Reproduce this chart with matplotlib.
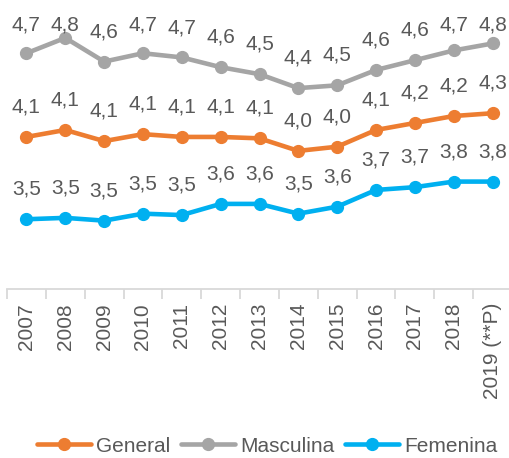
import matplotlib.pyplot as plt

# datos
years = ['2007', '2008', '2009', '2010', '2011', '2012', '2013',
         '2014', '2015', '2016', '2017', '2018', '2019 (**P)']
general = [4.09, 4.14, 4.06, 4.11, 4.09, 4.09, 4.08, 3.99, 4.02, 4.14, 4.19, 4.24, 4.26]
masculina = [4.69, 4.80, 4.63, 4.69, 4.66, 4.59, 4.54, 4.44, 4.46, 4.57, 4.64, 4.71, 4.76]
femenina = [3.50, 3.51, 3.49, 3.54, 3.53, 3.61, 3.61, 3.54, 3.59, 3.71, 3.73, 3.77, 3.77]

series = [('General', general, '#ED7D31'),
          ('Masculina', masculina, '#A5A5A5'),
          ('Femenina', femenina, '#00B0F0')]

plt.rcParams['font.family'] = ['Liberation Sans', 'DejaVu Sans']
txt = '#595959'

fig = plt.figure(figsize=(5.1, 4.58), dpi=100)
ax = fig.add_axes([7 / 510, 169 / 458, 505 / 510, 279 / 458])

x = list(range(len(years)))
for name, vals, col in series:
    ax.plot(x, vals, color=col, lw=3.3, marker='o', ms=8.5, label=name,
            solid_capstyle='round')
    for i, v in enumerate(vals):
        ly = min(v + 0.214, 4.89)  # etiqueta encima, sin salir del area
        ax.text(i, ly, f'{v:.1f}'.replace('.', ','), ha='center', va='center',
                fontsize=15, color=txt)

ax.set_xlim(-0.5, len(years) - 0.5)
ax.set_ylim(3.0, 5.0)
ax.set_yticks([])
for s in ['top', 'left', 'right']:
    ax.spines[s].set_visible(False)
ax.spines['bottom'].set_color('#D9D9D9')
ax.spines['bottom'].set_linewidth(1.3)

ax.set_xticks(x)
ax.set_xticklabels(years, rotation=90, fontsize=15, color=txt)
ax.tick_params(axis='x', which='major', length=0, pad=10)
ax.set_xticks([i - 0.5 for i in range(len(years) + 1)], minor=True)
ax.tick_params(axis='x', which='minor', length=7, width=1.3, color='#D9D9D9')

fig.legend(loc='center', bbox_to_anchor=(0.524, 12 / 458), ncol=3, frameon=False,
           fontsize=15, handlelength=2.6, handletextpad=0.25, columnspacing=0.5,
           labelcolor=txt, borderpad=0.1)

fig.savefig('out.png', dpi=100)
